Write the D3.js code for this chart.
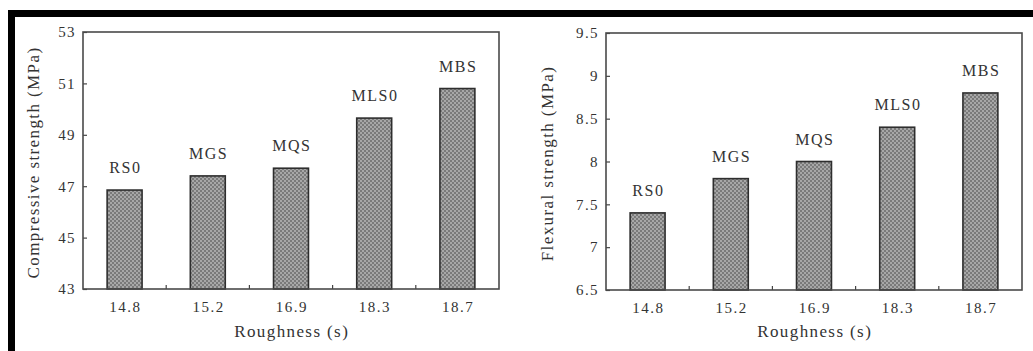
<!DOCTYPE html>
<html>
<head>
<meta charset="utf-8">
<script src="https://cdn.jsdelivr.net/npm/d3@7"></script>
<style>
  html, body { margin: 0; padding: 0; background: #fff; }
  svg { display: block; }
  svg text { font-family: 'Liberation Serif', 'Times New Roman', Times, serif !important; fill: #333; }
</style>
</head>
<body>
<script>
// Mortar mixes ordered by sand roughness
const roughness = ["14.8", "15.2", "16.9", "18.3", "18.7"];
const mixLabels = ["RS0", "MGS", "MQS", "MLS0", "MBS"];
const compressive = [46.85, 47.4, 47.7, 49.65, 50.8];
const flexural = [7.4, 7.8, 8.0, 8.4, 8.8];
const compressiveTicks = [43, 45, 47, 49, 51, 53];
const flexuralTicks = [6.5, 7, 7.5, 8, 8.5, 9, 9.5];

const W = 1033, H = 351;
const FONT = "'Liberation Serif', 'Times New Roman', Times, serif";
const svg = d3.select("body").append("svg").attr("width", W).attr("height", H);

// dotted grey fill used by every bar
const defs = svg.append("defs");
const pat = defs.append("pattern")
  .attr("id", "dots").attr("patternUnits", "userSpaceOnUse")
  .attr("width", 4).attr("height", 4);
pat.append("rect").attr("width", 4).attr("height", 4).attr("fill", "#7a7a7a");
pat.append("circle").attr("cx", 1).attr("cy", 1).attr("r", 0.9).attr("fill", "#bdbdbd");
pat.append("circle").attr("cx", 3).attr("cy", 3).attr("r", 0.9).attr("fill", "#bdbdbd");

// heavy black frame along the top and left edges
svg.append("rect").attr("x", 8).attr("y", 10).attr("width", W - 8).attr("height", 7).attr("fill", "#000");
svg.append("rect").attr("x", 8).attr("y", 10).attr("width", 7).attr("height", H - 10).attr("fill", "#000");

function panel(opts) {
  const { x0, x1, y0, y1, values, domain, ticks, fmt, yTitle, titleX } = opts;
  const g = svg.append("g").attr("font-family", FONT);

  const x = d3.scaleBand().domain(roughness).range([x0, x1])
    .paddingInner(0.58).paddingOuter(0.29);
  const y = d3.scaleLinear().domain(domain).range([y1, y0]);

  // bars
  g.selectAll("rect.bar").data(values).join("rect")
    .attr("class", "bar")
    .attr("x", (d, i) => x(roughness[i]))
    .attr("y", d => y(d))
    .attr("width", x.bandwidth())
    .attr("height", d => y(domain[0]) - y(d))
    .attr("fill", "url(#dots)")
    .attr("stroke", "#2e2e2e").attr("stroke-width", 1.6);

  // mix names above bars
  g.selectAll("text.mix").data(values).join("text")
    .attr("class", "mix")
    .attr("x", (d, i) => x(roughness[i]) + x.bandwidth() / 2 + 0.8)
    .attr("y", d => y(d) - 17)
    .attr("text-anchor", "middle")
    .attr("font-size", 16)
    .attr("letter-spacing", 1.5)
    .text((d, i) => mixLabels[i]);

  // left axis with inward ticks
  const yAxis = d3.axisLeft(y).tickValues(ticks).tickSize(-4).tickPadding(7).tickFormat(fmt);
  const ya = g.append("g").attr("transform", `translate(${x0},0)`).call(yAxis);
  ya.attr("font-family", FONT);
  ya.select(".domain").remove();
  ya.selectAll("line").attr("stroke", "#444").attr("stroke-width", 1.2);
  ya.selectAll("text").attr("font-size", 15).attr("letter-spacing", 1.4).attr("fill", "#333");

  // bottom axis: labels at bar centres, ticks between categories
  const xAxis = d3.axisBottom(x).tickSize(0).tickPadding(12);
  const xa = g.append("g").attr("transform", `translate(0,${y1})`).call(xAxis);
  xa.attr("font-family", FONT);
  xa.select(".domain").remove();
  xa.selectAll("text").attr("font-size", 15).attr("letter-spacing", 1.5).attr("dx", 0.75).attr("fill", "#333");
  const step = x.step();
  g.selectAll("line.sep").data(roughness.slice(1)).join("line")
    .attr("class", "sep")
    .attr("x1", d => x(d) - step * 0.29).attr("x2", d => x(d) - step * 0.29)
    .attr("y1", y1).attr("y2", y1 - 4)
    .attr("stroke", "#444").attr("stroke-width", 1.2);

  // plot box
  g.append("rect").attr("x", x0).attr("y", y0)
    .attr("width", x1 - x0).attr("height", y1 - y0)
    .attr("fill", "none").attr("stroke", "#4a4a4a").attr("stroke-width", 1.6);

  // titles
  g.append("text")
    .attr("transform", `translate(${titleX},${(y0 + y1) / 2 + 2}) rotate(-90)`)
    .attr("text-anchor", "middle").attr("dominant-baseline", "central")
    .attr("font-size", 17)
    .attr("letter-spacing", 1.4)
    .text(yTitle);
  g.append("text")
    .attr("x", (x0 + x1) / 2 + 0.7).attr("y", 337)
    .attr("text-anchor", "middle")
    .attr("font-size", 17)
    .attr("letter-spacing", 1.4)
    .text("Roughness (s)");
}

panel({
  x0: 83, x1: 499, y0: 32, y1: 289,
  values: compressive, domain: [43, 53], ticks: compressiveTicks,
  fmt: d3.format("d"), yTitle: "Compressive strength (MPa)", titleX: 33
});

panel({
  x0: 606, x1: 1022, y0: 33, y1: 290,
  values: flexural, domain: [6.5, 9.5], ticks: flexuralTicks,
  fmt: d => String(d), yTitle: "Flexural strength (MPa)", titleX: 547
});
</script>
</body>
</html>
